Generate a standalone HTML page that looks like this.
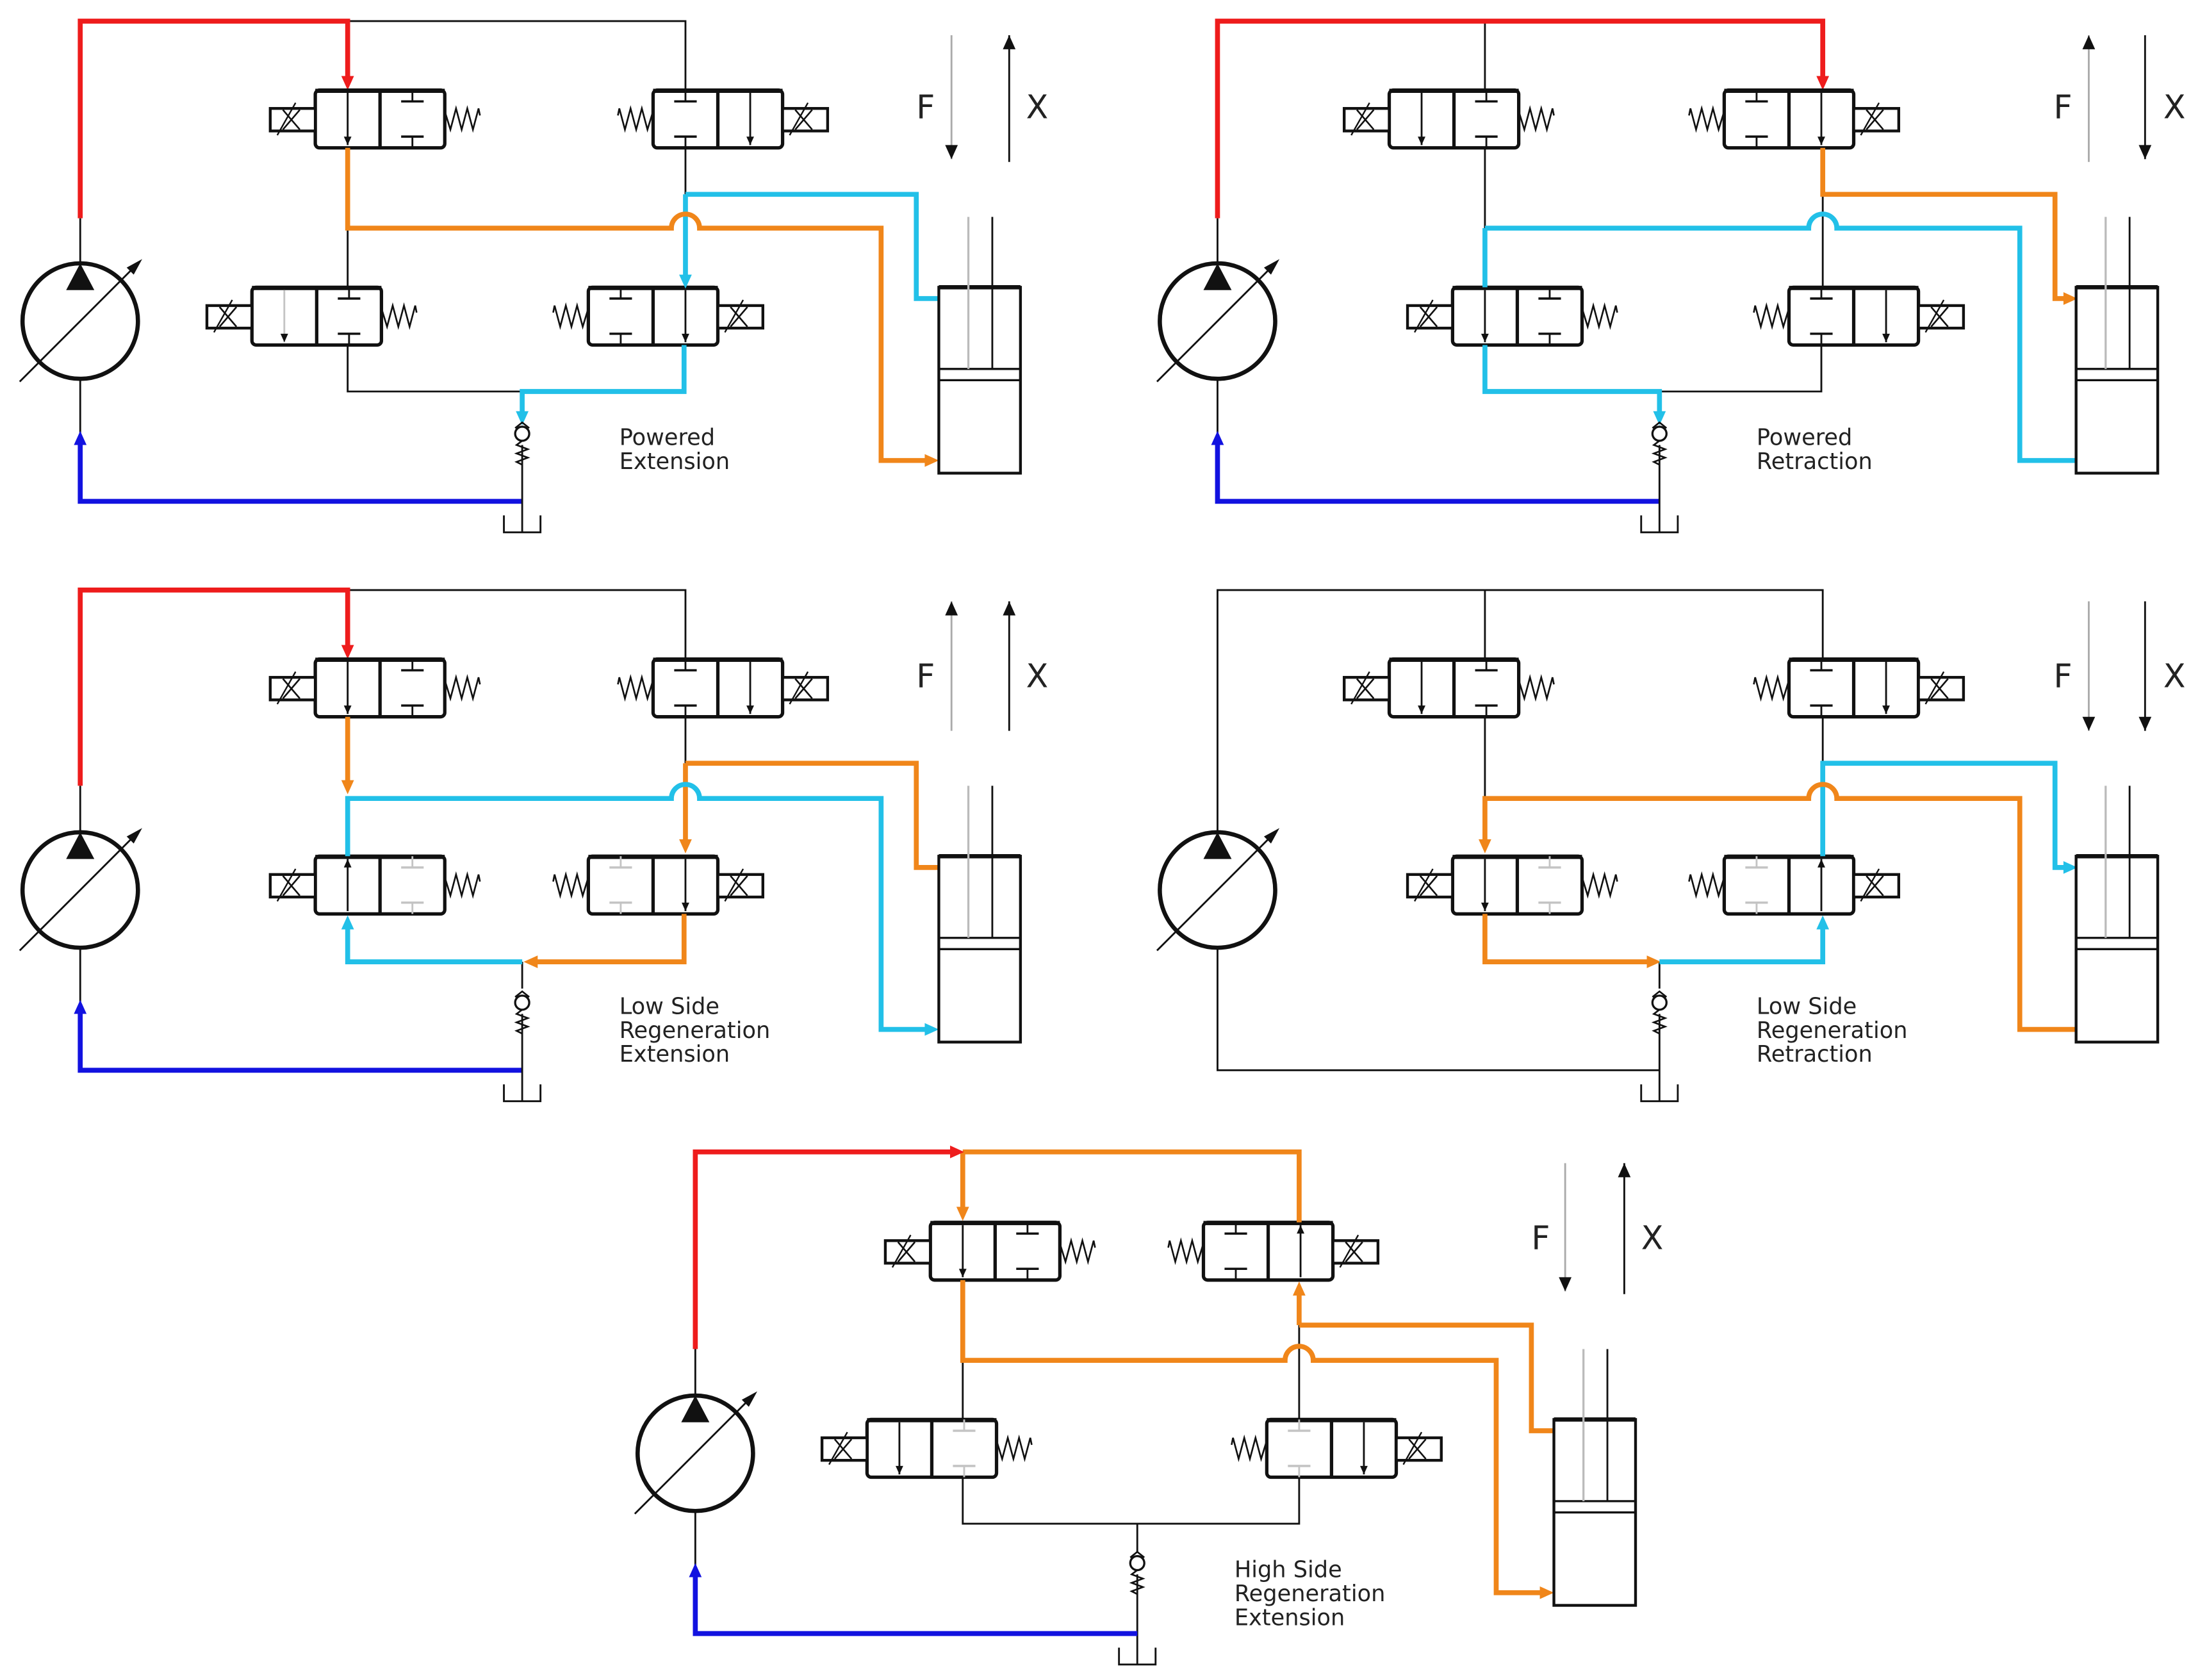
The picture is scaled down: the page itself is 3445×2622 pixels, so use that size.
<!DOCTYPE html>
<html><head><meta charset="utf-8"><style>
html,body{margin:0;padding:0;background:#fff;}
svg{display:block;}
text{font-family:"DejaVu Sans","Liberation Sans",sans-serif;fill:#222;}
</style></head><body>
<svg id="s" xmlns="http://www.w3.org/2000/svg" width="3445" height="2622" viewBox="0 0 1568 1193" preserveAspectRatio="none">
<rect width="1568" height="1193" fill="#fff"/>
<g id="g"></g>
<g font-size="16">
<text x="440" y="316">Powered</text><text x="440" y="333">Extension</text>
<text x="1248" y="316">Powered</text><text x="1248" y="333">Retraction</text>
<text x="440" y="720">Low Side</text><text x="440" y="737">Regeneration</text><text x="440" y="754">Extension</text>
<text x="1248" y="720">Low Side</text><text x="1248" y="737">Regeneration</text><text x="1248" y="754">Retraction</text>
<text x="877" y="1120">High Side</text><text x="877" y="1137">Regeneration</text><text x="877" y="1154">Extension</text>
</g>
<g font-size="23">
<text x="651" y="84">F</text><text x="729" y="84">X</text>
<text x="1459" y="84">F</text><text x="1537" y="84">X</text>
<text x="651" y="488">F</text><text x="729" y="488">X</text>
<text x="1459" y="488">F</text><text x="1537" y="488">X</text>
<text x="1088" y="887">F</text><text x="1166" y="887">X</text>
</g>
</svg>
<script>
var o='';
var RED='#ee1c1c',OR='#f0861a',CY='#22c0e8',BL='#1212e0',K='#111',GR='#c4c4c4';
function L(p,c,w){if(!c)c=K;if(!w)w=(c==K||c=='#bbb'||c==GR)?1.3:3.5;o+='<polyline points="'+p.map(function(a){return a.join(',')}).join(' ')+'" fill="none" stroke="'+c+'" stroke-width="'+w+'" stroke-linejoin="miter"/>';}
function P(d,c,w){o+='<path d="'+d+'" fill="none" stroke="'+c+'" stroke-width="'+(w||3.5)+'"/>';}
function A(x,y,dir,c,s){s=s||1;var l=10*s,h=4.5*s,p;
 if(dir=='d')p=[[x,y],[x-h,y-l],[x+h,y-l]];
 if(dir=='u')p=[[x,y],[x-h,y+l],[x+h,y+l]];
 if(dir=='r')p=[[x,y],[x-l,y-h],[x-l,y+h]];
 if(dir=='l')p=[[x,y],[x+l,y-h],[x+l,y+h]];
 o+='<polygon points="'+p.map(function(a){return a.join(',')}).join(' ')+'" fill="'+c+'"/>';}
function hopPath(x0,y,xc,x1){return 'M'+x0+','+y+' H'+(xc-10)+' A10 10 0 0 1 '+(xc+10)+','+y+' H'+x1;}
function V(x,y,solLeft,cells){
 o+='<rect x="'+x+'" y="'+y+'" width="92" height="41" rx="3" fill="#fff" stroke="'+K+'" stroke-width="2.4"/>';
 o+='<line x1="'+x+'" y1="'+(y+0.5)+'" x2="'+(x+92)+'" y2="'+(y+0.5)+'" stroke="'+K+'" stroke-width="3"/>';
 o+='<line x1="'+(x+46)+'" y1="'+y+'" x2="'+(x+46)+'" y2="'+(y+41)+'" stroke="'+K+'" stroke-width="2.4"/>';
 for(var i=0;i<2;i++){var c=cells[i],cx=x+23+46*i,col=c[2]?GR:K;
  if(c[0]=='a'){L([[cx,y+2],[cx,y+39]],c[2]?GR:K,1.3);
   if(c[1]=='d')A(cx,y+39,'d',K,0.6);else A(cx,y+2,'u',K,0.6);}
  else{L([[cx,y],[cx,y+8]],col);L([[cx-8,y+8],[cx+8,y+8]],col,1.6);L([[cx-8,y+33],[cx+8,y+33]],col,1.6);L([[cx,y+33],[cx,y+41]],col);}
 }
 var sx,sp,sg;
 if(solLeft){sx=x-32;sp=x+92;sg=1;}else{sx=x+92;sp=x;sg=-1;}
 o+='<rect x="'+sx+'" y="'+(y+13)+'" width="32" height="16" fill="#fff" stroke="'+K+'" stroke-width="2"/>';
 L([[sx+9,y+14],[sx+21,y+28]],K,1.2);L([[sx+21,y+14],[sx+9,y+28]],K,1.2);
 L([[sx+5,y+32],[sx+18,y+9]],K,1.1);
 var pts=[[sp,y+15]];var zz=[[4,28],[8,13],[12,28],[16,13],[20,28],[24,13],[25,18]];
 zz.forEach(function(z){pts.push([sp+sg*z[0],y+z[1]]);});L(pts,K,1.2);
}
function pump(cx,cy){o+='<circle cx="'+cx+'" cy="'+cy+'" r="41" fill="#fff" stroke="'+K+'" stroke-width="3"/>';
 o+='<polygon points="'+cx+','+(cy-41)+' '+(cx-10)+','+(cy-22)+' '+(cx+10)+','+(cy-22)+'" fill="'+K+'"/>';
 L([[cx-43,cy+43],[cx+38,cy-38]],K,1.3);
 o+='<polygon points="'+(cx+44)+','+(cy-44)+' '+(cx+33)+','+(cy-38)+' '+(cx+38)+','+(cy-33)+'" fill="'+K+'"/>';}
function check(x,y){o+='<circle cx="'+x+'" cy="'+y+'" r="5" fill="#fff" stroke="'+K+'" stroke-width="1.5"/>';
 L([[x-5,y-4],[x,y-8],[x+5,y-4]],K,1.2);
 L([[x,y+5],[x-4,y+8],[x+4,y+11],[x-4,y+14],[x+4,y+17],[x-4,y+20],[x,y+22]],K,1.2);}
function tank(x,y){L([[x-13,y],[x-13,y+12],[x+13,y+12],[x+13,y]],K,1.3);}
function cyl(x,y){o+='<rect x="'+x+'" y="'+y+'" width="58" height="132" fill="#fff" stroke="'+K+'" stroke-width="2"/>';
 L([[x,y],[x+58,y]],K,3);L([[x,y+58],[x+58,y+58]],K,1.5);L([[x,y+66],[x+58,y+66]],K,1.5);
 L([[x+21,y-50],[x+21,y+58]],'#bbb',1.5);L([[x+38,y-50],[x+38,y+58]],K,1.3);}
function fx(x,top,bot,dir,gray){L([[x,top],[x,bot]],gray?'#aaa':K,1.3);if(dir=='d')A(x,bot,'d',K,1);else A(x,top,'u',K,1);}

// Panel 1
pump(57,228);L([[57,186],[57,155]]);L([[57,270],[57,310]]);
L([[247,15],[487,15],[487,64]]);
L([[57,155],[57,15],[247,15],[247,60]],RED);A(247,64,'d',RED);
L([[57,312],[57,356],[371,356]],BL);A(57,306,'u',BL);
L([[247,162],[247,204]]);L([[487,105],[487,138]]);L([[247,245],[247,278],[371,278]]);
L([[371,316],[371,378]]);tank(371,366);
V(224,64,true,[['a','d'],['b']]);
V(464,64,false,[['b'],['a','d']]);
V(179,204,true,[['a','d',1],['b']]);
V(418,204,false,[['b'],['a','d']]);
L([[487,138],[487,200]],CY);A(487,205,'d',CY);
L([[487,138],[651,138],[651,212],[667,212]],CY);
L([[486,245],[486,278],[371,278],[371,296]],CY);A(371,302,'d',CY);
P('M247,105 V162 '+hopPath(247,162,487,626).slice(8)+' V327 H660',OR);A(667,327,'r',OR);
check(371,308);cyl(667,204);
fx(676,25,113,'d',1);fx(717,25,115,'u',0);

// Panel 2
pump(865,228);L([[865,186],[865,155]]);L([[865,270],[865,310]]);
L([[1055,15],[1055,64]]);
L([[865,155],[865,15],[1295,15],[1295,60]],RED);A(1295,64,'d',RED);
L([[865,312],[865,356],[1179,356]],BL);A(865,306,'u',BL);
L([[1055,105],[1055,162]]);L([[1295,138],[1295,204]]);L([[1179,278],[1294,278],[1294,245]]);
L([[1179,316],[1179,378]]);tank(1179,366);
V(987,64,true,[['a','d'],['b']]);
V(1225,64,false,[['b'],['a','d']]);
V(1032,204,true,[['a','d'],['b']]);
V(1271,204,false,[['b'],['a','d']]);
L([[1055,162],[1055,204]],CY);
P(hopPath(1055,162,1295,1435)+' V327 H1475',CY);
L([[1055,245],[1055,278],[1179,278],[1179,296]],CY);A(1179,302,'d',CY);
L([[1295,105],[1295,138],[1460,138],[1460,212],[1469,212]],OR);A(1476,212,'r',OR);
check(1179,308);cyl(1475,204);
fx(1484,25,115,'u',1);fx(1524,25,113,'d',0);

// Panel 3
pump(57,632);L([[57,590],[57,558]]);L([[57,674],[57,714]]);
L([[247,419],[487,419],[487,468]]);
L([[57,558],[57,419],[247,419],[247,464]],RED);A(247,468,'d',RED);
L([[57,716],[57,760],[371,760]],BL);A(57,710,'u',BL);
L([[487,509],[487,542]]);L([[371,683],[371,702]]);L([[371,720],[371,782]]);tank(371,770);
V(224,468,true,[['a','d'],['b']]);
V(464,468,false,[['b'],['a','d']]);
V(224,608,true,[['a','u'],['b','',1]]);
V(418,608,false,[['b','',1],['a','d']]);
L([[247,509],[247,558]],OR);A(247,564,'d',OR);
L([[487,542],[487,600]],OR);A(487,606,'d',OR);
L([[487,542],[651,542],[651,616],[667,616]],OR);
P('M247,608 V567 '+hopPath(247,567,487,626).slice(8)+' V731 H660',CY);A(667,731,'r',CY);
L([[247,656],[247,683],[371,683]],CY);A(247,650,'u',CY);
L([[486,649],[486,683],[380,683]],OR);A(372,683,'l',OR);
check(371,712);cyl(667,608);
fx(676,427,519,'u',1);fx(717,427,519,'u',0);

// Panel 4
pump(865,632);
L([[865,590],[865,419],[1295,419],[1295,468]]);L([[1055,419],[1055,468]]);
L([[865,674],[865,760],[1179,760]]);
L([[1055,509],[1055,567]]);L([[1295,509],[1295,542]]);L([[1179,683],[1179,702]]);L([[1179,720],[1179,782]]);tank(1179,770);
V(987,468,true,[['a','d'],['b']]);
V(1271,468,false,[['b'],['a','d']]);
V(1032,608,true,[['a','d'],['b','',1]]);
V(1225,608,false,[['b','',1],['a','u']]);
L([[1295,608],[1295,542],[1460,542],[1460,616],[1469,616]],CY);A(1476,616,'r',CY);
P('M1055,600 V567 '+hopPath(1055,567,1295,1435).slice(9)+' V731 H1475',OR);A(1055,606,'d',OR);
L([[1055,649],[1055,683],[1172,683]],OR);A(1180,683,'r',OR);
L([[1179,683],[1295,683],[1295,656]],CY);A(1295,650,'u',CY);
check(1179,712);cyl(1475,608);
fx(1484,427,519,'d',1);fx(1524,427,519,'d',0);

// Panel 5
pump(494,1032);L([[494,990],[494,958]]);L([[494,1074],[494,1114]]);
L([[684,966],[684,1008]]);L([[923,941],[923,1008]]);
L([[684,1049],[684,1082],[923,1082],[923,1049]]);L([[808,1082],[808,1102]]);L([[808,1118],[808,1182]]);tank(808,1170);
L([[494,1116],[494,1160],[808,1160]],BL);A(494,1110,'u',BL);
V(661,868,true,[['a','d'],['b']]);
V(855,868,false,[['b'],['a','u']]);
V(616,1008,true,[['a','d'],['b','',1]]);
V(900,1008,false,[['b','',1],['a','d']]);
L([[684,818],[923,818],[923,868]],OR);
L([[684,818],[684,860]],OR);A(684,867,'d',OR);
L([[494,958],[494,818],[678,818]],RED);A(685,818,'r',RED);
P('M684,909 V966 '+hopPath(684,966,923,1063).slice(8)+' V1131 H1097',OR);A(1104,1131,'r',OR);
L([[923,941],[923,917]],OR);A(923,910,'u',OR);
L([[923,941],[1088,941],[1088,1016],[1104,1016]],OR);
check(808,1110);cyl(1104,1008);
fx(1112,826,917,'d',1);fx(1154,826,919,'u',0);

document.getElementById('g').innerHTML=o;
</script>
</body></html>
